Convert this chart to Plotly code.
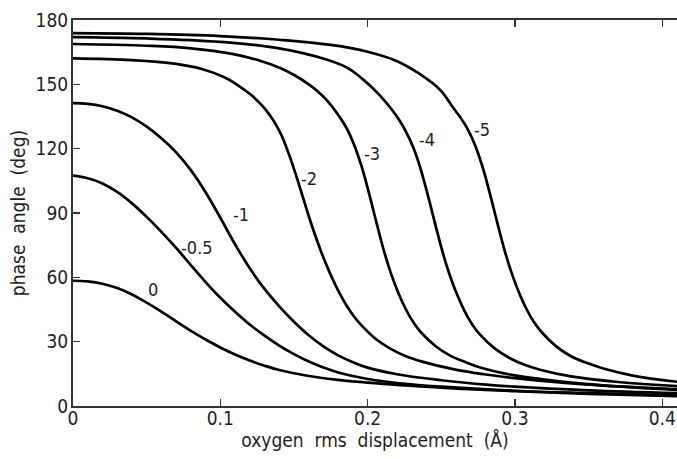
import plotly.graph_objects as go

# ---- data ----
labels = ["0", "-0.5", "-1", "-2", "-3", "-4", "-5"]

x_0 = [0, 0.01, 0.02, 0.03, 0.04, 0.05, 0.06, 0.07, 0.08, 0.09, 0.10, 0.11, 0.12, 0.13, 0.14, 0.16, 0.18, 0.20, 0.25, 0.30, 0.35, 0.41]
y_0 = [58.4, 58.1, 57.0, 55.0, 52.0, 48.2, 44.0, 39.5, 35.0, 31.0, 27.3, 24.0, 21.2, 18.8, 16.8, 14.0, 12.2, 10.9, 8.6, 6.9, 5.7, 4.6]

x_m05 = [0, 0.01, 0.02, 0.03, 0.04, 0.05, 0.06, 0.07, 0.08, 0.09, 0.10, 0.11, 0.12, 0.13, 0.14, 0.15, 0.16, 0.17, 0.18, 0.20, 0.22, 0.25, 0.30, 0.35, 0.41]
y_m05 = [107.4, 106.2, 103.8, 99.8, 94.5, 88.2, 81.2, 73.7, 65.7, 57.8, 50.5, 44.0, 38.0, 32.8, 28.2, 24.2, 20.8, 18.0, 15.6, 12.6, 10.7, 9.0, 7.1, 6.0, 5.0]

x_m1 = [0, 0.01, 0.02, 0.03, 0.04, 0.05, 0.06, 0.07, 0.08, 0.09, 0.10, 0.11, 0.12, 0.13, 0.14, 0.15, 0.16, 0.17, 0.18, 0.19, 0.20, 0.22, 0.25, 0.28, 0.30, 0.35, 0.41]
y_m1 = [141.2, 140.9, 139.8, 137.7, 134.6, 130.3, 124.9, 118.3, 110.0, 99.7, 87.8, 75.4, 64.2, 54.6, 46.5, 39.3, 33.0, 27.8, 23.6, 20.4, 17.9, 14.8, 12.0, 10.0, 9.0, 7.3, 6.0]

x_m2 = [0, 0.04, 0.07, 0.088, 0.102, 0.111, 0.121, 0.126, 0.131, 0.136, 0.141, 0.146, 0.151, 0.156, 0.161, 0.166, 0.171, 0.176, 0.181, 0.186, 0.191, 0.196, 0.206, 0.216, 0.226, 0.237, 0.258, 0.279, 0.30, 0.33, 0.36, 0.41]
y_m2 = [162.1, 161.3, 159.5, 157.0, 153.5, 150.0, 145.0, 141.8, 138.0, 133.2, 127.0, 118.5, 108.5, 97.5, 86.5, 76.5, 67.5, 59.5, 52.5, 46.5, 41.5, 37.5, 31.0, 26.5, 23.2, 20.7, 17.2, 14.8, 13.0, 11.0, 9.5, 7.5]

x_m3 = [0, 0.05, 0.08, 0.108, 0.127, 0.141, 0.151, 0.161, 0.166, 0.171, 0.176, 0.181, 0.186, 0.191, 0.196, 0.201, 0.206, 0.211, 0.216, 0.221, 0.226, 0.231, 0.236, 0.246, 0.256, 0.267, 0.277, 0.298, 0.33, 0.36, 0.41]
y_m3 = [168.8, 168.0, 166.8, 164.2, 161.0, 157.5, 154.0, 149.5, 146.8, 143.5, 139.5, 134.8, 129.2, 121.5, 111.5, 99.0, 85.5, 72.5, 61.5, 52.5, 45.0, 39.0, 34.5, 28.0, 23.5, 20.3, 17.8, 14.5, 11.5, 9.6, 7.8]

x_m4 = [0, 0.05, 0.10, 0.138, 0.172, 0.186, 0.196, 0.201, 0.206, 0.211, 0.216, 0.221, 0.226, 0.231, 0.236, 0.241, 0.246, 0.251, 0.256, 0.261, 0.266, 0.271, 0.276, 0.286, 0.296, 0.306, 0.317, 0.338, 0.37, 0.41]
y_m4 = [172.0, 171.4, 169.8, 167.0, 161.6, 157.8, 152.8, 149.8, 146.5, 142.8, 138.6, 133.8, 128.0, 120.5, 110.5, 98.0, 84.5, 71.5, 60.5, 51.5, 44.0, 38.0, 33.5, 27.0, 22.5, 19.3, 16.9, 13.8, 11.2, 9.3]

x_m5 = [0, 0.05, 0.10, 0.14, 0.175, 0.20, 0.22, 0.235, 0.245, 0.25, 0.254, 0.258, 0.263, 0.268, 0.273, 0.278, 0.283, 0.288, 0.293, 0.298, 0.303, 0.308, 0.313, 0.318, 0.328, 0.338, 0.349, 0.36, 0.38, 0.41]
y_m5 = [173.9, 173.5, 172.5, 170.8, 168.4, 165.2, 160.8, 155.0, 150.0, 146.8, 143.2, 139.2, 134.5, 129.0, 121.5, 111.5, 99.0, 85.5, 72.5, 61.5, 52.5, 45.0, 39.0, 34.5, 27.8, 23.2, 20.0, 17.5, 14.2, 11.3]

# label anchor positions (data coords)
label_x = [0.0543, 0.0840, 0.1137, 0.1602, 0.2030, 0.2403, 0.2773]
label_y = [54.1, 73.7, 89.1, 106.1, 117.7, 124.3, 128.9]

x_ticks = [0, 0.1, 0.2, 0.3, 0.4]
x_ticktext = ["0", "0.1", "0.2", "0.3", "0.4"]
y_ticks = [0, 30, 60, 90, 120, 150, 180]

series_x = [x_0, x_m05, x_m1, x_m2, x_m3, x_m4, x_m5]
series_y = [y_0, y_m05, y_m1, y_m2, y_m3, y_m4, y_m5]

FONT = "DejaVu Sans Condensed, Liberation Sans Narrow, sans-serif"
TXT = "#1e1e1e"

fig = go.Figure()
for name, xs, ys in zip(labels, series_x, series_y):
    fig.add_trace(go.Scatter(
        x=xs, y=ys, mode="lines", name=name,
        line=dict(color="black", width=2.7, shape="spline", smoothing=1.1),
        hoverinfo="skip", showlegend=False,
    ))

for t, lx, ly in zip(labels, label_x, label_y):
    fig.add_annotation(x=lx, y=ly, text=t, showarrow=False,
                       font=dict(family=FONT, size=18, color=TXT),
                       xanchor="center", yanchor="middle")

axis_common = dict(showgrid=False, zeroline=False, ticks="inside", ticklen=7,
                   tickwidth=1.5, tickcolor="#333333", linecolor="#333333",
                   linewidth=2, showline=True,
                   tickfont=dict(family=FONT, size=19, color=TXT))

fig.update_layout(
    width=677, height=459,
    margin=dict(l=73, r=0, t=20, b=53),
    paper_bgcolor="white", plot_bgcolor="white",
    hovermode=False,
    xaxis=dict(range=[0, 0.41], tickvals=x_ticks, ticktext=x_ticktext, mirror="ticks",
               ticklabelstandoff=-6,
               title=dict(text="oxygen\u00a0 rms\u00a0 displacement\u00a0 (Å)",
                          font=dict(family=FONT, size=19, color=TXT), standoff=5),
               **axis_common),
    yaxis=dict(range=[0, 180], tickvals=y_ticks, ticklabelstandoff=-1,
               title=dict(text="phase\u00a0 angle\u00a0 (deg)",
                          font=dict(family=FONT, size=19, color=TXT), standoff=5),
               **axis_common),
    yaxis2=dict(range=[0, 180], tickvals=y_ticks, overlaying="y", side="right",
                anchor="x", showline=False, showgrid=False, zeroline=False,
                ticks="inside", ticklen=7, tickwidth=1.5, tickcolor="#333333",
                showticklabels=False),
)

fig.write_html("out.html",
               config={"displayModeBar": False, "staticPlot": True},
               post_script="document.body.style.margin='0px';"
                           "document.body.style.overflow='hidden';")
